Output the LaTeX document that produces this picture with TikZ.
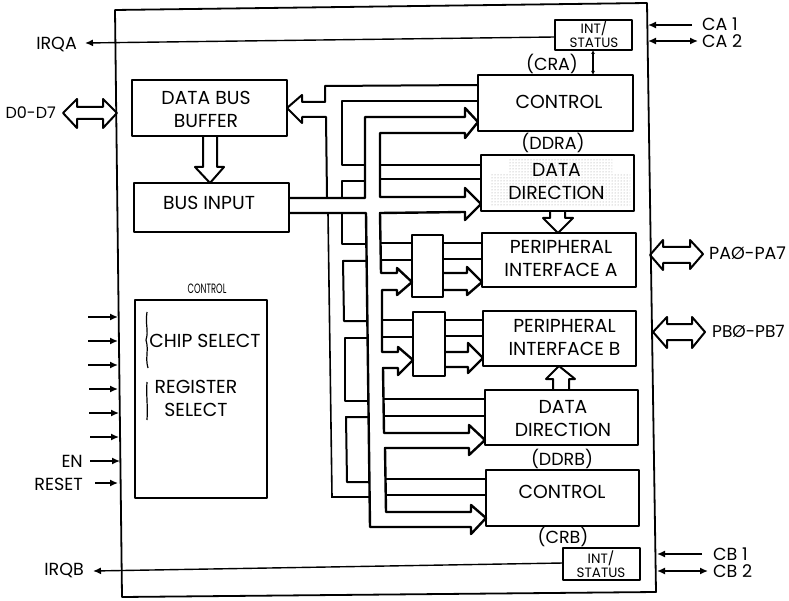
\documentclass[tikz,border=0pt]{standalone}
\usepackage{fontspec}
\setmainfont{Poppins}
\usetikzlibrary{arrows.meta,patterns}
\tikzset{
  x=1pt,y=-1pt,
  blk/.style={draw=black,line width=2.2pt,anchor=north west,inner sep=0pt,outer sep=0pt,line join=round},
  bus/.style={draw=black,line width=2pt,line join=round},
  thickbus/.style={draw=black,line width=2.4pt,line join=round},
  wire/.style={draw=black,line width=1.4pt},
  sig/.style={draw=black,line width=1.4pt,-{Latex[length=8pt,width=7pt]}},
  sigb/.style={draw=black,line width=1.4pt,{Latex[length=8pt,width=7pt]}-{Latex[length=8pt,width=7pt]}},
  lbl/.style={inner sep=0pt,align=center,text=black,font=\fontsize{18.8}{23}\selectfont},
  pin/.style={inner sep=0pt,text=black,font=\fontsize{17.5}{20}\selectfont},
  tiny/.style={inner sep=0pt,align=center,text=black,font=\fontsize{13.5}{14}\selectfont},
}
\begin{document}
\begin{tikzpicture}
\useasboundingbox (0,0) rectangle (789,601);
\fill[white] (0,0) rectangle (789,601);

% chip outline
\draw[black,line width=1.8pt,line join=round] (115,10) -- (647,3) -- (656,592) -- (122,597) -- cycle;

% stipple
\fill[pattern=dots,pattern color=black!40] (490,174) rectangle (630,207);
\fill[pattern=dots,pattern color=black!40] (508,160) rectangle (612,174);

% blocks
\node[blk,minimum width=155pt,minimum height=56pt] (dbb) at (132,80) {};
\node[blk,minimum width=155pt,minimum height=49pt] (bi) at (134,183) {};
\node[blk,minimum width=132pt,minimum height=198pt] (cs) at (135,300) {};
\node[blk,minimum width=155pt,minimum height=56pt] (ca) at (478,75) {};
\node[blk,minimum width=153pt,minimum height=56pt] (da) at (481,155) {};
\node[blk,minimum width=154pt,minimum height=54pt] (pa) at (482,233) {};
\node[blk,minimum width=153pt,minimum height=55pt] (pb) at (483,311) {};
\node[blk,minimum width=153pt,minimum height=55pt] (db) at (485,390) {};
\node[blk,minimum width=153pt,minimum height=56pt] (cb) at (486,470) {};
\node[blk,minimum width=77pt,minimum height=30pt] (ia) at (555,20) {};
\node[blk,minimum width=77pt,minimum height=32pt] (ib) at (563,548) {};
\node[blk,minimum width=31pt,minimum height=62pt] (ma) at (412,235) {};
\node[blk,minimum width=32pt,minimum height=64pt] (mb) at (413,312) {};

% data bus buffer arrow and branches
\draw[bus] (dbb.east |- 0,108) -- (302,95) -- (302,102) -- (325,102) -- (325,86) -- (ca.west |- 0,85);
\draw[bus] (dbb.east |- 0,108) -- (302,123) -- (302,117) -- (326,117) -- (327,197);
\draw[wire,line width=1.6pt] (328,213) -- (332,497) -- (370,497);

% control lines, left comb
\draw[bus] (ca.west |- 0,101) -- (342,101) -- (342,165) -- (365,165);
\draw[bus] (365,181) -- (342,181) -- (342,197);
\draw[bus] (342,213) -- (342,244) -- (365,244);
\draw[bus] (366,261) -- (343,261) -- (344,321) -- (367,321);
\draw[bus] (367,338) -- (345,338) -- (345,401) -- (368,401);
\draw[bus] (368,417) -- (346,417) -- (347,482) -- (369,482);

% main bus, one continuous outline
\draw[thickbus] (bi.east |- 0,198) -- (365,198) -- (365,117) -- (465,117) -- (465,108) -- (ca.west |- 0,122) -- (465,138) -- (465,133) -- (380,133) -- (380,197) -- (465,197) -- (465,188) -- (da.west |- 0,204) -- (465,220) -- (465,212) -- (380,213) -- (381,273) -- (397,273) -- (397,268) -- (ma.west |- 0,282) -- (397,295) -- (397,290) -- (382,290) -- (382,352) -- (398,352) -- (398,347) -- (mb.west |- 0,360) -- (398,375) -- (398,368) -- (383,368) -- (384,433) -- (469,433) -- (469,425) -- (db.west |- 0,440) -- (469,455) -- (469,448) -- (385,448) -- (386,512) -- (471,512) -- (471,505) -- (cb.west |- 0,518) -- (471,534) -- (471,527) -- (370,527) -- (366,213) -- (bi.east |- 0,213);

% rungs to the blocks
\draw[bus] (380,165) -- (da.west |- 0,165);
\draw[bus] (380,179) -- (da.west |- 0,179);
\draw[bus] (381,243) -- (ma.west |- 0,243);
\draw[bus] (381,260) -- (ma.west |- 0,260);
\draw[bus] (382,320) -- (mb.west |- 0,320);
\draw[bus] (382,337) -- (mb.west |- 0,337);
\draw[bus] (384,399) -- (db.west |- 0,399);
\draw[bus] (384,416) -- (db.west |- 0,416);
\draw[bus] (386,479) -- (cb.west |- 0,479);
\draw[bus] (386,495) -- (cb.west |- 0,495);

% multiplexers to peripheral interfaces
\draw[bus] (ma.east |- 0,243) -- (pa.west |- 0,243);
\draw[bus] (ma.east |- 0,259) -- (pa.west |- 0,259);
\draw[thickbus] (ma.east |- 0,273) -- (467,273) -- (467,267) -- (pa.west |- 0,282) -- (467,295) -- (467,290) -- (ma.east |- 0,290);
\draw[bus] (mb.east |- 0,320) -- (pb.west |- 0,320);
\draw[bus] (mb.east |- 0,336) -- (pb.west |- 0,336);
\draw[thickbus] (mb.east |- 0,352) -- (468,352) -- (468,343) -- (pb.west |- 0,358) -- (468,373) -- (468,367) -- (mb.east |- 0,367);

% hollow block arrows
\draw[bus] (203,136) -- (203,167) -- (195,167) -- (210,183) -- (224,167) -- (217,167) -- (217,136);
\draw[bus] (550,211) -- (550,218) -- (543,218) -- (558,233) -- (573,218) -- (565,218) -- (565,211);
\draw[bus] (553,390) -- (553,379) -- (546,379) -- (559,366) -- (575,379) -- (569,379) -- (569,390);

% outside double arrows
\draw[bus] (63,113) -- (77,99) -- (77,107) -- (103,107) -- (103,99) -- (117,113) -- (103,128) -- (103,119) -- (77,119) -- (77,128) -- cycle;
\draw[bus] (650,255) -- (663,240) -- (663,247) -- (690,247) -- (690,240) -- (703,254) -- (690,269) -- (690,263) -- (663,263) -- (663,270) -- cycle;
\draw[bus] (653,332) -- (667,317) -- (667,324) -- (692,324) -- (692,317) -- (705,332) -- (692,348) -- (692,340) -- (667,340) -- (667,348) -- cycle;

% signal wires
\coordinate (irqa) at (85,43);
\coordinate (irqb) at (93,571);
\draw[sig] (ia.west |- 0,37) -- (irqa);
\draw[sig] (ib.west |- 0,563) -- (irqb);
\draw[sigb,{Latex[length=4pt,width=4pt]}-{Latex[length=4pt,width=4pt]}] (593,50) -- (593,75);
\draw[sig] (692,25) -- (648,25);
\draw[sigb] (648,41) -- (698,41);
\draw[sig] (702,554) -- (657,554);
\draw[sigb] (657,571) -- (708,571);
\foreach \yy/\xa/\xb in {317/88/118,341/88/118,365/88/118,389/89/118,413/89/119,437/90/119,461/90/120,483/95/118}{
  \draw[sig] (\xa,\yy) -- (\xb,\yy);
}
% select brackets
\draw[black,line width=1.2pt] (147,312) .. controls (145,325) and (149,330) .. (146,340) .. controls (149,350) and (145,358) .. (148,368);
\draw[black,line width=1.2pt] (147,382) .. controls (146,395) and (148,405) .. (147,420);

% labels
\node[lbl] (tdbb) at (206,109.5) {DATA BUS\\BUFFER};
\node[lbl] (tbi) at (209,203) {BUS INPUT};
\node[lbl] (tca) at (559,102) {CONTROL};
\node[lbl,font=\fontsize{17.5}{23}\selectfont] (tcra) at (552,64) {(CRA)};
\node[lbl,font=\fontsize{17.5}{23}\selectfont] (tddra) at (553,143) {(DDRA)};
\node[lbl] (tda) at (556.5,182) {DATA\\DIRECTION};
\node[lbl] (tpa) at (561,258.5) {PERIPHERAL\\INTERFACE A};
\node[lbl] (tpb) at (564.5,337) {PERIPHERAL\\INTERFACE B};
\node[lbl] (tdb) at (563,418.5) {DATA\\DIRECTION};
\node[lbl,font=\fontsize{17.5}{23}\selectfont] (tddrb) at (562,459) {(DDRB)};
\node[lbl] (tcb) at (562,492) {CONTROL};
\node[lbl,font=\fontsize{17.5}{23}\selectfont] (tcrb) at (563,537) {(CRB)};
\node[lbl] (tcs) at (205,341) {CHIP SELECT};
\node[lbl] (trs) at (196,398) {REGISTER\\SELECT};
\node[tiny] (tctl) at (207,289) {\scalebox{.62}[1]{CONTROL}};
\node[tiny] (tia) at (594,34) {INT/\\STATUS};
\node[tiny] (tib) at (601,564.5) {INT/\\STATUS};
\node[pin,anchor=east] (lirqa) at (77,44) {IRQA};
\node[pin,anchor=east] (lirqb) at (84,570) {IRQB};
\node[pin,anchor=east,font=\fontsize{16}{20}\selectfont] (ldd) at (56,113) {D0-D7};
\node[pin,anchor=east] (len) at (83,461) {EN};
\node[pin,anchor=east] (lres) at (83,484) {RESET};
\node[pin,anchor=west] (lca1) at (702,24) {CA 1};
\node[pin,anchor=west] (lca2) at (702,41) {CA 2};
\node[pin,anchor=west] (lcb1) at (713,554) {CB 1};
\node[pin,anchor=west] (lcb2) at (713,571) {CB 2};
\node[pin,anchor=west] (lpa) at (709,253) {PAØ-PA7};
\node[pin,anchor=west,font=\fontsize{17}{20}\selectfont] (lpb) at (712,331) {PBØ-PB7};
\end{tikzpicture}
\end{document}
